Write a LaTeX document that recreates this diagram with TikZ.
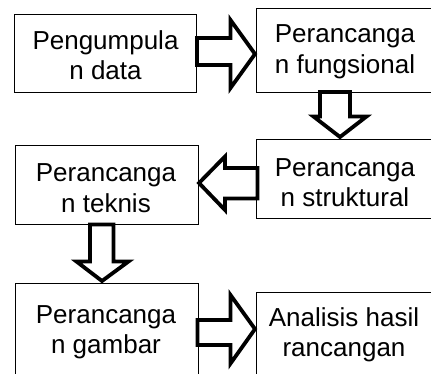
\documentclass[tikz,border=0pt]{standalone}
\usepackage{fontspec}
\setmainfont{Liberation Sans}
\begin{document}
\begin{tikzpicture}[x=1pt,y=-1pt,
  boxstyle/.style={draw=black, line width=0.9pt, fill=white},
  lbl/.style={font=\fontsize{26}{30}\selectfont, inner sep=0pt, anchor=base},
  blockarrow/.style={draw=black, line width=3.8pt, fill=white, line join=miter}]
\useasboundingbox (0,0) rectangle (431,373);
% boxes
\draw[boxstyle] (14.5,14.5) rectangle (196.5,92.5);
\draw[boxstyle] (256,8.5) rectangle (440,92);
\draw[boxstyle] (15,145) rectangle (198,224.5);
\draw[boxstyle] (256,139.5) rectangle (440,218);
\draw[boxstyle] (15,283) rectangle (198,380);
\draw[boxstyle] (256,292) rectangle (440,380);
% text
\node[lbl] (t1a) at (105.5,49.5) {Pengumpula};
\node[lbl] (t1b) at (105.5,79.5) {n data};
\node[lbl] (t2a) at (345,42.5) {Perancanga};
\node[lbl] (t2b) at (345,73) {n fungsional};
\node[lbl] (t3a) at (106,181.5) {Perancanga};
\node[lbl] (t3b) at (106,212) {n teknis};
\node[lbl] (t4a) at (345,176) {Perancanga};
\node[lbl] (t4b) at (345,206.5) {n struktural};
\node[lbl] (t5a) at (106,323) {Perancanga};
\node[lbl] (t5b) at (106,353) {n gambar};
\node[lbl] (t6a) at (344,326) {Analisis hasil};
\node[lbl] (t6b) at (344,356.5) {rancangan};
% block arrows
\draw[blockarrow] (197,38) -- (230.5,38) -- (230.5,20) -- (255,54) -- (230.5,88) -- (230.5,65) -- (197,65) -- cycle;
\draw[blockarrow] (320,92) -- (320,116.5) -- (313.5,116.5) -- (340,137) -- (366.5,116.5) -- (350,116.5) -- (350,92) -- cycle;
\draw[blockarrow] (257.5,168) -- (225,168) -- (225,156.5) -- (199,183) -- (225,210) -- (225,198.5) -- (257.5,198.5) -- cycle;
\draw[blockarrow] (90,224.5) -- (90,261.5) -- (76.5,261.5) -- (102,281) -- (128.5,261.5) -- (113.5,261.5) -- (113.5,224.5) -- cycle;
\draw[blockarrow] (197.5,320) -- (230.5,320) -- (230.5,295) -- (255,329) -- (230.5,363.5) -- (230.5,345) -- (197.5,345) -- cycle;
\end{tikzpicture}
\end{document}
